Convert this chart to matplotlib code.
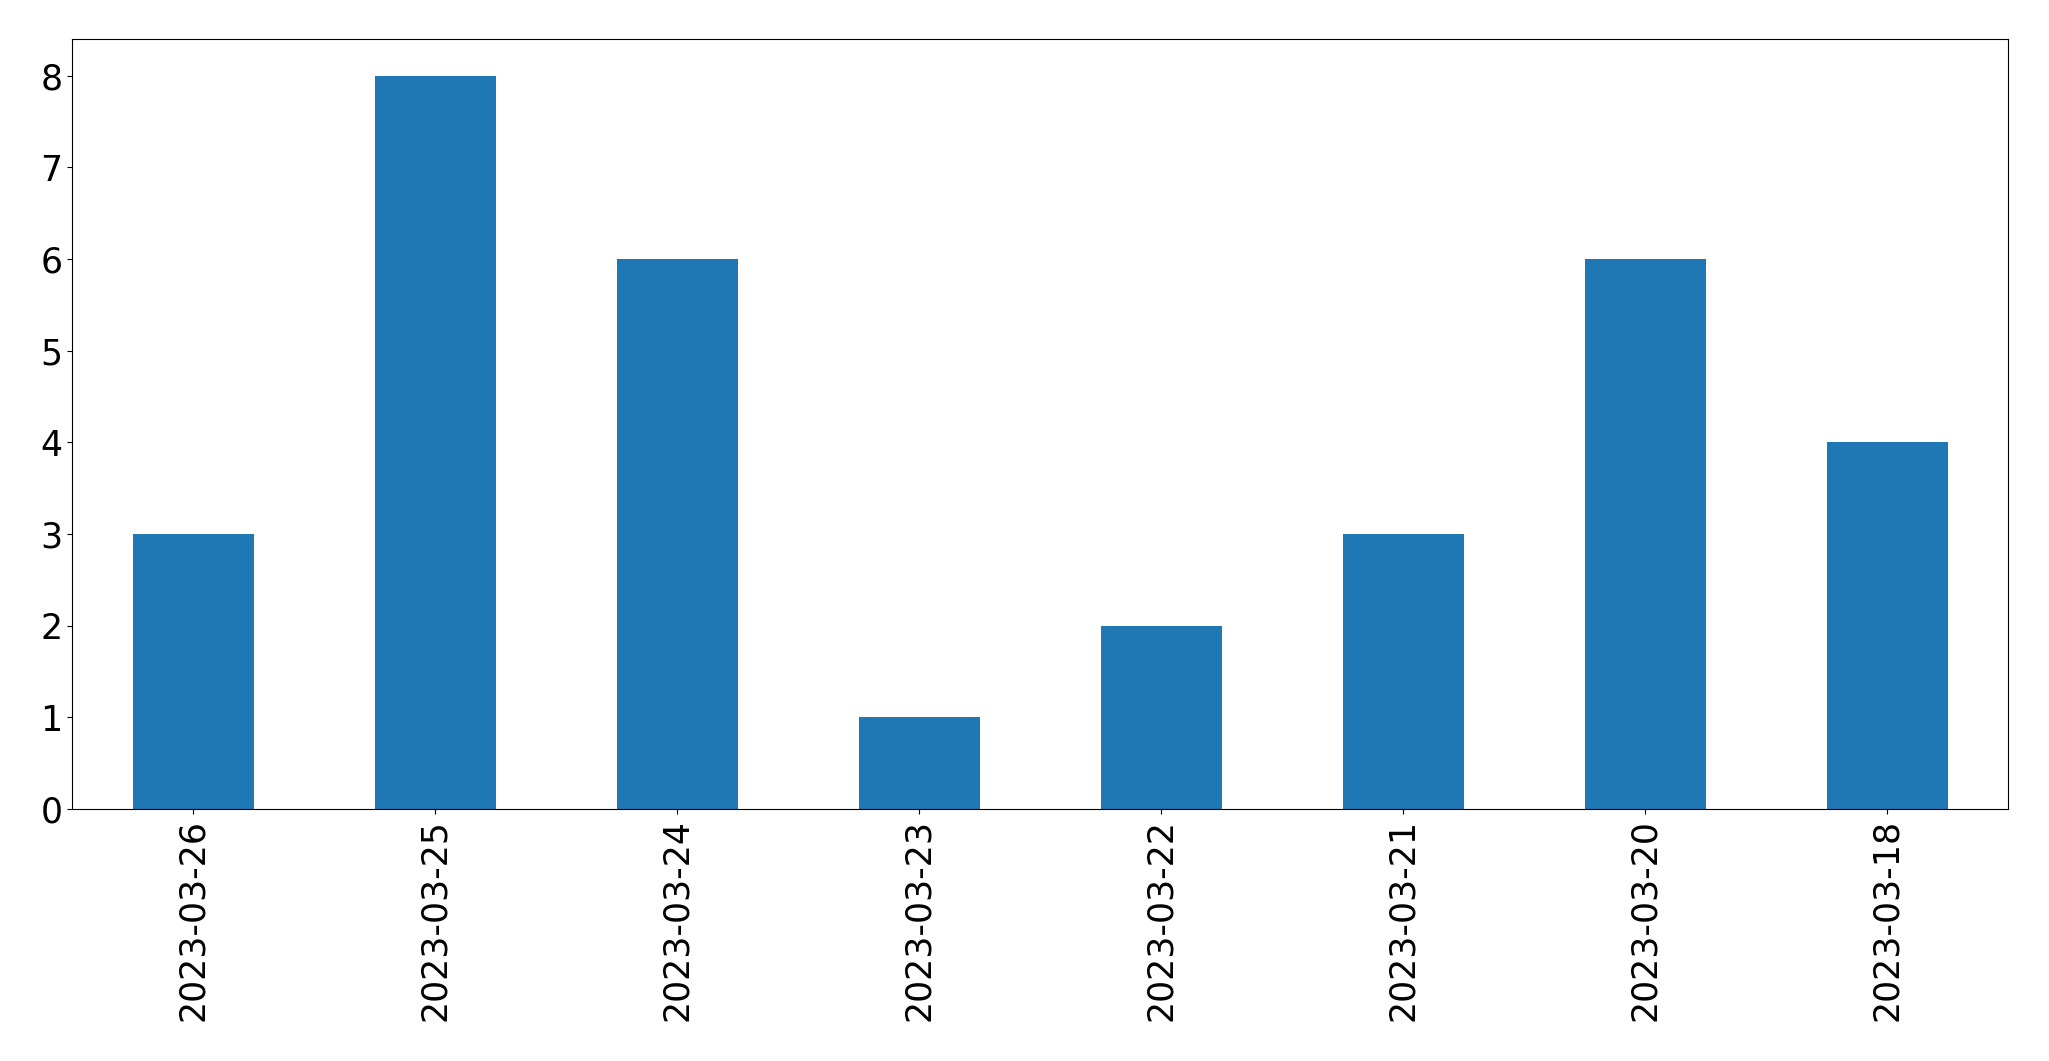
import matplotlib
matplotlib.use("Agg")
import matplotlib.pyplot as plt

dates = ["2023-03-26", "2023-03-25", "2023-03-24", "2023-03-23",
         "2023-03-22", "2023-03-21", "2023-03-20", "2023-03-18"]
counts = [3, 8, 6, 1, 2, 3, 6, 4]

fig = plt.figure(figsize=(20.49, 10.61), dpi=100)
ax = fig.add_axes([72 / 2049, 1 - 809 / 1061, (2008 - 72) / 2049, (809 - 39) / 1061])
x = range(len(dates))
ax.bar(x, counts, width=0.5, color="#1f77b4")
ax.set_xlim(-0.5, len(dates) - 0.5)
ax.set_ylim(0, 8.4)
ax.set_xticks(list(x))
ax.set_xticklabels(dates, rotation=90)
ax.tick_params(labelsize=25)
fig.savefig("out.png", dpi=100)
